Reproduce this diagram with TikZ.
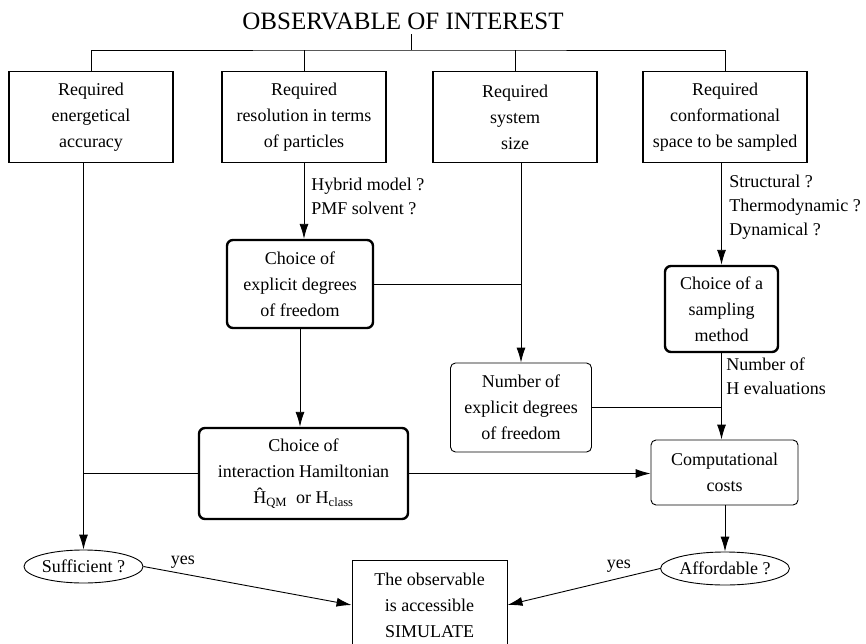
\documentclass[tikz,border=0pt]{standalone}
\usepackage{fontspec}
\setmainfont{Liberation Serif}
\usepackage{tikz}
\usetikzlibrary{shapes,arrows.meta,positioning,calc}

\begin{document}
\begin{tikzpicture}[x=1pt, y=-1pt, line width=0.9pt, >={Latex[length=15pt,width=9pt]}, font=\fontsize{18}{26}\selectfont]
    \tikzstyle{req} = [rectangle, draw, line width=1.1pt, minimum width=164pt, minimum height=91pt, align=center, inner sep=0pt]
    \tikzstyle{choice} = [rectangle, draw, line width=2.4pt, rounded corners=6pt, align=center, inner sep=0pt]
    \tikzstyle{count} = [rectangle, draw, rounded corners=5pt, align=center, inner sep=0pt]
    \tikzstyle{query} = [ellipse, draw, inner sep=0pt]
    \tikzstyle{lbl} = [align=left, inner sep=0pt, anchor=north west, font=\fontsize{18}{24}\selectfont]
    \useasboundingbox (0,0) rectangle (866,644);

    \node [anchor=base, font=\fontsize{25}{28}\selectfont] (title) at (403,30) {OBSERVABLE OF INTEREST};
    \coordinate (top) at (411,50);

    \node [req] (energy) at (91,117) {Required\\energetical\\accuracy};
    \node [req] (resol) at (304,117) {Required\\resolution in terms\\of particles};
    \node [req] (size) at (515,117) {Required\\system\\size};
    \node [req] (conf) at (725,117) {Required\\conformational\\space to be sampled};

    \node [choice, minimum width=146pt, minimum height=88pt] (dof) at (300,284) {Choice of\\explicit degrees\\of freedom};
    \node [count, minimum width=141pt, minimum height=89pt] (ndof) at (521,407.5) {Number of\\explicit degrees\\of freedom};
    \node [choice, minimum width=113pt, minimum height=86pt] (sampling) at (721.5,309) {Choice of a\\sampling\\method};
    \node [choice, minimum width=209pt, minimum height=91pt] (hamilt) at (303.5,473.5) {Choice of\\interaction Hamiltonian\\Ĥ\textsubscript{QM}\ \ or H\textsubscript{class}};
    \node [count, minimum width=147pt, minimum height=65pt] (costs) at (724.5,472.5) {Computational\\costs};

    \node [query, minimum width=119pt, minimum height=33pt] (suff) at (83.5,566.5) {Sufficient ?};
    \node [query, minimum width=122pt, minimum height=33pt] (afford) at (725,568.5) {Affordable ?};
    \node [rectangle, draw, minimum width=155pt, minimum height=90pt, align=center, inner sep=0pt] (simul) at (429.5,605) {The observable\\is accessible\\SIMULATE};

    \node [lbl] (hybrid) at (311,178) {Hybrid model ?\\PMF solvent ?};
    \node [lbl] (kinds) at (729,175) {Structural ?\\Thermodynamic ?\\Dynamical ?};
    \node [lbl] (neval) at (726,357) {Number of\\H evaluations};

    % tree from the observable
    \path [draw] (title.south -| top) -- (top);
    \path [draw] (energy.north) |- (top) -| (conf.north);
    \path [draw] (resol.north) -- (resol.north |- top);
    \path [draw] (size.north) -- (size.north |- top);

    \path [draw, ->] (energy.south -| suff.north) -- (suff.north);
    \path [draw, ->] (resol.south) -- (resol.south |- dof.north);
    \path [draw, ->] (size.south -| ndof.north) -- (ndof.north);
    \path [draw, ->] (conf.south -| sampling.north) -- (sampling.north);

    \path [draw] (dof.east) -- (dof.east -| ndof.north);
    \path [draw, ->] (dof.south) -- (dof.south |- hamilt.north);
    \path [draw] (hamilt.west) -- (hamilt.west -| suff.north);
    \path [draw, ->] (hamilt.east) -- (hamilt.east -| costs.west);
    \path [draw] (ndof.east) -- (ndof.east -| sampling.south);
    \path [draw, ->] (sampling.south) -- (sampling.south |- costs.north);
    \path [draw, ->] (costs.south -| afford.north) -- (afford.north);

    \path [draw, ->] (suff.east) -- node [pos=0.19, above=5pt, inner sep=0pt] {yes} (simul.west);
    \path [draw, ->] (afford.west) -- node [pos=0.27, above=6pt, inner sep=0pt] {yes} (simul.east);
\end{tikzpicture}
\end{document}
